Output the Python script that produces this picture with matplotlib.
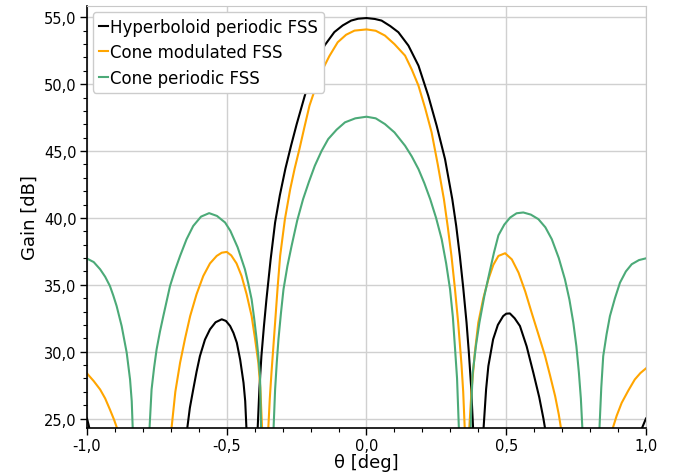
import matplotlib
matplotlib.use("Agg")
import matplotlib.pyplot as plt
from matplotlib.ticker import MultipleLocator, FuncFormatter

# Gain patterns (values below ~24 dB are off-chart nulls)
theta_hyp = [-1.0, -0.994, -0.989, -0.95, -0.80, -0.643,
             -0.632, -0.620, -0.608, -0.596, -0.578, -0.560, -0.540, -0.518, -0.503, -0.488,
             -0.476, -0.464, -0.452, -0.440, -0.434, -0.429, -0.41,
             -0.390, -0.383, -0.376, -0.367, -0.358, -0.343, -0.327, -0.310, -0.290, -0.270,
             -0.250, -0.220, -0.185, -0.150, -0.115, -0.085, -0.055, -0.030, 0.0,
             0.030, 0.054, 0.085, 0.114, 0.150, 0.186, 0.221, 0.251, 0.281, 0.307,
             0.321, 0.334, 0.346, 0.358, 0.366, 0.374, 0.382, 0.40,
             0.418, 0.428, 0.436, 0.453, 0.470, 0.489, 0.500, 0.513, 0.530, 0.549,
             0.573, 0.597, 0.618, 0.633, 0.641, 0.80, 0.980, 0.990, 1.0]
gain_hyp = [25.0, 24.5, 24.0, 18.0, 18.0, 24.0,
            25.8, 27.17, 28.5, 29.67, 30.9, 31.67, 32.2, 32.42, 32.3, 31.92,
            31.4, 30.67, 29.4, 27.67, 26.3, 24.0, 15.0,
            24.0, 27.3, 29.67, 31.9, 33.91, 36.9, 39.66, 41.7, 43.7, 45.4,
            47.0, 49.2, 51.4, 52.9, 53.9, 54.4, 54.76, 54.9, 54.95,
            54.88, 54.76, 54.35, 53.89, 52.89, 51.39, 49.14, 46.9, 44.4, 41.4,
            39.4, 37.16, 34.8, 32.17, 30.0, 27.5, 24.0, 15.0,
            24.0, 27.2, 28.92, 30.92, 32.0, 32.66, 32.84, 32.86, 32.5, 31.92,
            30.4, 28.42, 26.6, 25.0, 24.0, 18.0, 24.0, 24.5, 25.0]

theta_mod = [-1.0, -0.976, -0.953, -0.935, -0.918, -0.903, -0.888, -0.80,
             -0.699, -0.684, -0.667, -0.649, -0.631, -0.608, -0.584, -0.560, -0.536, -0.518,
             -0.500, -0.484, -0.465, -0.447, -0.429, -0.411, -0.399, -0.387, -0.380, -0.373,
             -0.362,
             -0.352, -0.346, -0.340, -0.327, -0.318, -0.309, -0.292, -0.273, -0.257, -0.240,
             -0.222, -0.204, -0.183, -0.162, -0.133, -0.103, -0.073, -0.043, 0.0,
             0.033, 0.066, 0.100, 0.138, 0.162, 0.186, 0.210, 0.233, 0.255, 0.277,
             0.291, 0.304, 0.316, 0.328, 0.340, 0.346, 0.352, 0.360,
             0.367, 0.376, 0.388, 0.400, 0.418, 0.436, 0.454, 0.472, 0.496, 0.520,
             0.544, 0.568, 0.591, 0.615, 0.639, 0.657, 0.675, 0.688, 0.698, 0.79,
             0.877, 0.895, 0.913, 0.937, 0.960, 0.980, 1.0]
gain_mod = [28.37, 27.8, 27.17, 26.5, 25.67, 24.9, 24.0, 15.0,
            24.0, 27.0, 29.17, 31.0, 32.66, 34.3, 35.66, 36.6, 37.16, 37.4,
            37.46, 37.2, 36.6, 35.66, 34.3, 32.66, 31.0, 29.17, 27.3, 24.0,
            15.0,
            24.0, 26.5, 28.42, 32.17, 34.8, 37.16, 39.9, 42.15, 43.7, 45.15,
            46.8, 48.4, 49.7, 50.9, 52.1, 53.14, 53.7, 54.01, 54.1,
            54.0, 53.64, 53.0, 52.14, 51.1, 49.89, 48.2, 46.4, 44.0, 41.4,
            39.3, 37.16, 34.8, 32.17, 29.0, 27.0, 24.0, 15.0,
            24.0, 27.17, 30.0, 32.17, 34.0, 35.41, 36.5, 37.16, 37.36, 36.9,
            35.91, 34.5, 32.91, 31.3, 29.67, 28.2, 26.67, 25.3, 24.0, 15.0,
            24.0, 25.2, 26.17, 27.1, 27.92, 28.4, 28.75]

theta_per = [-1.0, -0.976, -0.953, -0.935, -0.918, -0.906, -0.894, -0.876, -0.858, -0.846,
             -0.840, -0.836, -0.806,
             -0.777, -0.769, -0.760, -0.751, -0.739, -0.727, -0.703, -0.685, -0.667, -0.644,
             -0.620, -0.592, -0.563, -0.535, -0.506, -0.487, -0.461, -0.435, -0.423, -0.411,
             -0.402, -0.393, -0.387, -0.381, -0.377, -0.355,
             -0.333, -0.327, -0.321, -0.315, -0.306, -0.297, -0.283, -0.268, -0.248, -0.227,
             -0.206, -0.185, -0.161, -0.137, -0.107, -0.077, -0.040, 0.0,
             0.033, 0.066, 0.100, 0.138, 0.162, 0.186, 0.207, 0.228, 0.249, 0.269,
             0.285, 0.299, 0.309, 0.317, 0.324, 0.331, 0.35,
             0.372, 0.376, 0.380, 0.392, 0.404, 0.422, 0.440, 0.456, 0.472, 0.493,
             0.514, 0.537, 0.561, 0.588, 0.615, 0.640, 0.663, 0.688, 0.710, 0.726,
             0.740, 0.751, 0.760, 0.767, 0.773, 0.80,
             0.833, 0.840, 0.847, 0.859, 0.871, 0.889, 0.907, 0.928, 0.949, 0.975, 1.0]
gain_per = [36.96, 36.7, 36.16, 35.6, 34.91, 34.2, 33.41, 31.91, 29.92, 27.92,
            26.3, 24.0, 15.0,
            24.0, 27.17, 28.8, 30.17, 31.5, 32.66, 34.91, 36.1, 37.16, 38.4,
            39.4, 40.1, 40.36, 40.15, 39.66, 39.03, 37.8, 36.16, 35.1, 33.91,
            32.5, 30.92, 29.7, 28.17, 24.0, 15.0,
            24.0, 27.17, 29.2, 30.92, 32.9, 34.66, 36.4, 37.91, 39.8, 41.4,
            42.7, 43.9, 45.0, 45.9, 46.6, 47.15, 47.45, 47.57,
            47.45, 47.02, 46.4, 45.4, 44.6, 43.65, 42.6, 41.4, 40.0, 38.41,
            36.6, 34.66, 32.6, 30.17, 28.0, 24.0, 15.0,
            24.0, 26.5, 28.42, 30.5, 32.17, 34.2, 35.91, 37.4, 38.7, 39.5,
            40.03, 40.35, 40.41, 40.25, 39.91, 39.3, 38.41, 37.0, 35.41, 33.9,
            32.17, 30.4, 28.42, 26.5, 24.0, 15.0,
            24.0, 27.3, 29.67, 31.3, 32.66, 34.0, 35.16, 36.0, 36.54, 36.85, 36.98]

labels = ["Hyperboloid periodic FSS", "Cone modulated FSS", "Cone periodic FSS"]
colors = ["black", "#ffa500", "#4caa78"]


def comma_fmt(v, pos):
    return f"{v:.1f}".replace(".", ",")


fig = plt.figure(figsize=(6.83, 4.77), dpi=100)
ax = fig.add_axes([0.1274, 0.1006, 0.8184, 0.8847])

for th, g, lab, c in zip([theta_hyp, theta_mod, theta_per],
                         [gain_hyp, gain_mod, gain_per], labels, colors):
    ax.plot(th, g, color=c, lw=1.5, label=lab)

ax.set_xlim(-1, 1)
ax.set_ylim(24.29, 55.85)
ax.xaxis.set_major_locator(MultipleLocator(0.5))
ax.xaxis.set_minor_locator(MultipleLocator(0.1))
ax.yaxis.set_major_locator(MultipleLocator(5))
ax.yaxis.set_minor_locator(MultipleLocator(1))
ax.xaxis.set_major_formatter(FuncFormatter(comma_fmt))
ax.yaxis.set_major_formatter(FuncFormatter(comma_fmt))
ax.tick_params(which="major", length=5, width=1, labelsize=10.5, pad=2.5)
ax.tick_params(which="minor", length=3, width=0.8)

ax.grid(True, which="major", color="#d0d0d0", lw=1)
ax.set_axisbelow(True)
for s in ["top", "right"]:
    ax.spines[s].set_color("#c8c8c8")
ax.spines["left"].set_linewidth(1.2)
ax.spines["bottom"].set_linewidth(1.2)

ax.set_xlabel("θ [deg]", fontsize=13, labelpad=0)
ax.set_ylabel("Gain [dB]", fontsize=13)

ax.legend(loc="upper left", fontsize=12, handlelength=0.55, handletextpad=0.15,
          borderaxespad=0.35, borderpad=0.35, labelspacing=0.45, framealpha=1)

fig.savefig("out.png", dpi=100)
